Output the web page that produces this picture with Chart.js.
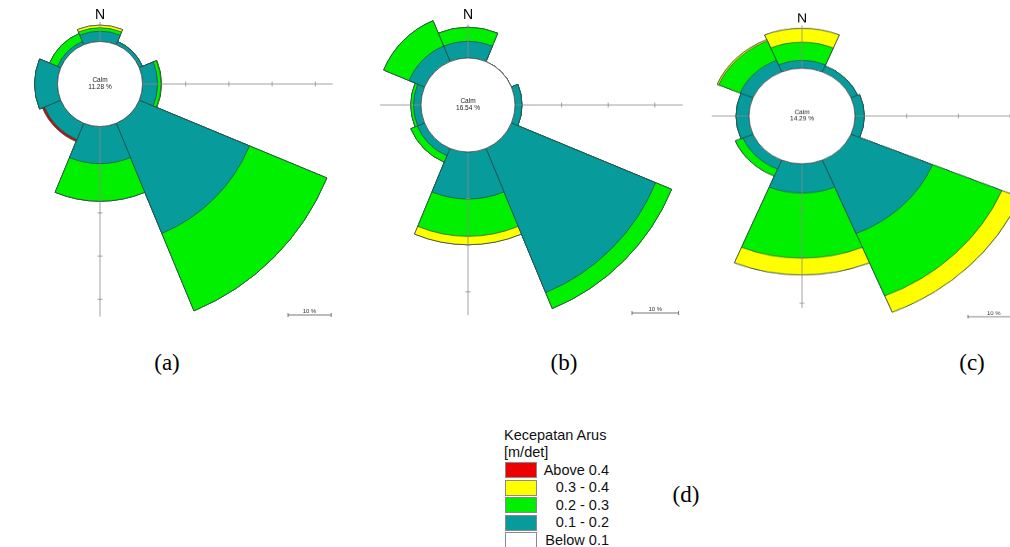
<!DOCTYPE html>
<html>
<head>
<meta charset="utf-8">
<script src="https://cdn.jsdelivr.net/npm/chart.js@4.4.0/dist/chart.umd.min.js"></script>
<style>
html, body { margin: 0; padding: 0; background: #fff; overflow: hidden; }
#page { position: relative; width: 1010px; height: 547px; overflow: hidden; background: #fff; }
#page canvas { position: absolute; }
.cap { position: absolute; z-index: 5; font-family: 'Liberation Serif', 'Times New Roman', serif; font-size: 23px; color: #000; transform: translate(-50%, -50%); white-space: nowrap; }
.lg { position: absolute; z-index: 5; font-family: 'Liberation Sans', Arial, sans-serif; font-size: 14.5px; color: #111; white-space: nowrap; line-height: 17px; }
.sw { position: absolute; z-index: 5; width: 30px; height: 14px; border: 1px solid #8a8a8a; }
</style>
</head>
<body>
<div id="page">
  <canvas id="roseA" width="500" height="500"></canvas>
  <canvas id="roseB" width="470" height="470"></canvas>
  <canvas id="roseC" width="490" height="490"></canvas>
</div>
<script>
// Directions (8 sectors, 45 deg each) and current speed classes
const directions = ['N', 'NE', 'E', 'SE', 'S', 'SW', 'W', 'NW'];
const speedClasses = ['Below 0.1', '0.1 - 0.2', '0.2 - 0.3', '0.3 - 0.4', 'Above 0.4'];

// (a) percentage of time per direction, per speed class
const calmA = 11.28;
const roseA_below01 = [0, 0, 0, 0, 0, 0, 0, 0];
const roseA_01_02   = [2.4, 0.8, 3.5, 27.6, 8.6, 4.1, 5.3, 0.8];
const roseA_02_03   = [0.8, 0, 0.8, 19.4, 8.7, 0, 0, 2.0];
const roseA_03_04   = [0.6, 0, 0.1, 0, 0, 0, 0, 0];
const roseA_above04 = [0, 0, 0, 0, 0, 0.5, 0, 0];

// (b)
const calmB = 16.54;
const roseB_below01 = [0, 0, 0, 0, 0, 0, 0, 0];
const roseB_01_02   = [3.6, 0, 1.5, 33.5, 10.1, 1.7, 1.6, 3.6];
const roseB_02_03   = [3.0, 0, 0, 3.7, 8.0, 1.5, 0.6, 5.9];
const roseB_03_04   = [0, 0, 0, 0, 1.8, 0, 0, 0];
const roseB_above04 = [0, 0, 0, 0, 0, 0, 0, 0];

// (c)
const calmC = 14.29;
const roseC_below01 = [0, 0, 0, 0, 0, 0, 0, 0];
const roseC_01_02   = [1.7, 1.4, 1.8, 17.1, 6.3, 2.1, 2.5, 2.7];
const roseC_02_03   = [3.9, 0, 0, 14.5, 14.0, 1.6, 0, 4.5];
const roseC_03_04   = [3.0, 0, 0, 3.8, 3.6, 0, 0, 0.3];
const roseC_above04 = [0, 0, 0, 0, 0, 0, 0, 0];

const classColors = ['#ffffff', '#079b9b', '#00f000', '#ffff00', '#e00000'];
const legendColors = ['#ffffff', '#079b9b', '#00ee00', '#ffff00', '#ee0000'];

// placement of each rose on the page (pixels)
const roseLayout = {
    roseA: { cx: 100, cy: 84, half: 250, calmR: 42.5, pxPerPct: 4.32, squash: 1, nLabel: 69, axes: { n: 4.5, e: 44, s: 44 }, bar: [188, 231] },
    roseB: { cx: 468, cy: 105, half: 235, calmR: 47, pxPerPct: 4.66, squash: 1, nLabel: 90, axes: { n: 7.2, e: 36, s: 35, w: 8.8 }, bar: [164, 208] },
    roseC: { cx: 802, cy: 116, half: 245, calmR: 53, pxPerPct: 5.17, squash: 0.9, nLabel: 108, axes: { n: 9.2, e: 40, s: 31, w: 7.2 }, bar: [166, 223] }
};

// stack the classes: each dataset reaches the running total, smallest one drawn on top
function stackClasses(layers) {
    let run = directions.map(() => 0);
    return layers.map(layer => {
        run = run.map((v, i) => v + layer[i]);
        return run.slice();
    });
}

const axisAngle = { n: -Math.PI / 2, e: 0, s: Math.PI / 2, w: Math.PI };

function roseDecor(lay, calm) {
    return {
        id: 'roseDecor',
        afterDatasetsDraw(chart) {
            const r = chart.scales.r;
            const ctx = chart.ctx;
            const cx = r.xCenter, cy = r.yCenter;
            const dist = v => r.getDistanceFromCenterForValue(v);
            ctx.save();

            // axis lines with 10 % ticks
            ctx.strokeStyle = '#8c8c8c';
            ctx.lineWidth = 0.8;
            Object.keys(lay.axes).forEach(key => {
                const a = axisAngle[key];
                const ux = Math.cos(a), uy = Math.sin(a);
                const len = dist(lay.axes[key]);
                ctx.beginPath();
                ctx.moveTo(cx, cy);
                ctx.lineTo(cx + ux * len, cy + uy * len);
                ctx.stroke();
                for (let t = 10; t <= lay.axes[key]; t += 10) {
                    const p = dist(t);
                    const px = cx + ux * p, py = cy + uy * p;
                    ctx.beginPath();
                    ctx.moveTo(px + uy * 2.5, py - ux * 2.5);
                    ctx.lineTo(px - uy * 2.5, py + ux * 2.5);
                    ctx.stroke();
                }
            });

            // calm circle
            ctx.beginPath();
            ctx.arc(cx, cy, dist(0), 0, Math.PI * 2);
            ctx.fillStyle = '#ffffff';
            ctx.fill();
            ctx.strokeStyle = '#4a4a4a';
            ctx.lineWidth = 0.8;
            ctx.stroke();

            ctx.fillStyle = '#222';
            ctx.textAlign = 'center';
            ctx.textBaseline = 'middle';
            ctx.font = '6.5px "Liberation Sans", Arial, sans-serif';
            ctx.fillText('Calm', cx, cy - 3.5);
            ctx.fillText(calm.toFixed(2) + ' %', cx, cy + 3.5);

            // north label
            ctx.fillStyle = '#000';
            ctx.font = '14px "Liberation Sans", Arial, sans-serif';
            ctx.fillText('N', cx, cy - lay.nLabel);

            // 10 % scale bar
            const barLen = dist(10) - dist(0);
            const bx = cx + lay.bar[0], by = cy + lay.bar[1];
            ctx.strokeStyle = '#555';
            ctx.lineWidth = 0.8;
            ctx.beginPath();
            ctx.moveTo(bx, by);
            ctx.lineTo(bx + barLen, by);
            ctx.moveTo(bx, by - 2);
            ctx.lineTo(bx, by + 2);
            ctx.moveTo(bx + barLen, by - 2);
            ctx.lineTo(bx + barLen, by + 2);
            ctx.stroke();
            ctx.fillStyle = '#333';
            ctx.font = '6px "Liberation Sans", Arial, sans-serif';
            ctx.textBaseline = 'alphabetic';
            ctx.fillText('10 %', bx + barLen / 2, by - 2);

            ctx.restore();
        }
    };
}

function drawRose(id, calm, layers) {
    const lay = roseLayout[id];
    const canvas = document.getElementById(id);
    canvas.style.left = (lay.cx - lay.half) + 'px';
    canvas.style.top = (lay.cy - lay.half) + 'px';
    if (lay.squash !== 1) {
        canvas.style.transform = 'scaleY(' + lay.squash + ')';
        canvas.style.transformOrigin = '50% 50%';
    }

    const stacked = stackClasses(layers);
    new Chart(canvas.getContext('2d'), {
        type: 'polarArea',
        data: {
            labels: directions,
            datasets: stacked.map((data, i) => ({
                label: speedClasses[i],
                data,
                backgroundColor: classColors[i],
                borderColor: '#234545',
                borderWidth: 0.7
            }))
        },
        options: {
            responsive: false,
            animation: false,
            events: [],
            layout: { padding: 0 },
            plugins: { legend: { display: false }, tooltip: { enabled: false } },
            scales: {
                r: {
                    startAngle: -22.5,
                    beginAtZero: false,
                    min: -lay.calmR / lay.pxPerPct,
                    max: (lay.half - lay.calmR) / lay.pxPerPct,
                    grid: { display: false },
                    angleLines: { display: false },
                    ticks: { display: false },
                    pointLabels: { display: false }
                }
            }
        },
        plugins: [roseDecor(lay, calm)]
    });
}

drawRose('roseA', calmA, [roseA_below01, roseA_01_02, roseA_02_03, roseA_03_04, roseA_above04]);
drawRose('roseB', calmB, [roseB_below01, roseB_01_02, roseB_02_03, roseB_03_04, roseB_above04]);
drawRose('roseC', calmC, [roseC_below01, roseC_01_02, roseC_02_03, roseC_03_04, roseC_above04]);

// captions
const page = document.getElementById('page');
[['(a)', 167, 363], ['(b)', 564, 363], ['(c)', 972, 363], ['(d)', 686, 495]].forEach(([t, x, y]) => {
    const el = document.createElement('div');
    el.className = 'cap';
    el.textContent = t;
    el.style.left = x + 'px';
    el.style.top = y + 'px';
    page.appendChild(el);
});

// legend (d)
function addText(text, left, top, extra) {
    const el = document.createElement('div');
    el.className = 'lg';
    el.textContent = text;
    el.style.left = left + 'px';
    el.style.top = top + 'px';
    if (extra) Object.assign(el.style, extra);
    page.appendChild(el);
}
addText('Kecepatan Arus', 504, 427);
addText('[m/det]', 504, 443.5);
speedClasses.slice().reverse().forEach((name, i) => {
    const top = 462 + i * 17.5;
    const sw = document.createElement('div');
    sw.className = 'sw';
    sw.style.left = '505px';
    sw.style.top = top + 'px';
    sw.style.background = legendColors[speedClasses.length - 1 - i];
    page.appendChild(sw);
    addText(name, 530, top - 0.5, { width: '79px', textAlign: 'right' });
});
</script>
</body>
</html>
